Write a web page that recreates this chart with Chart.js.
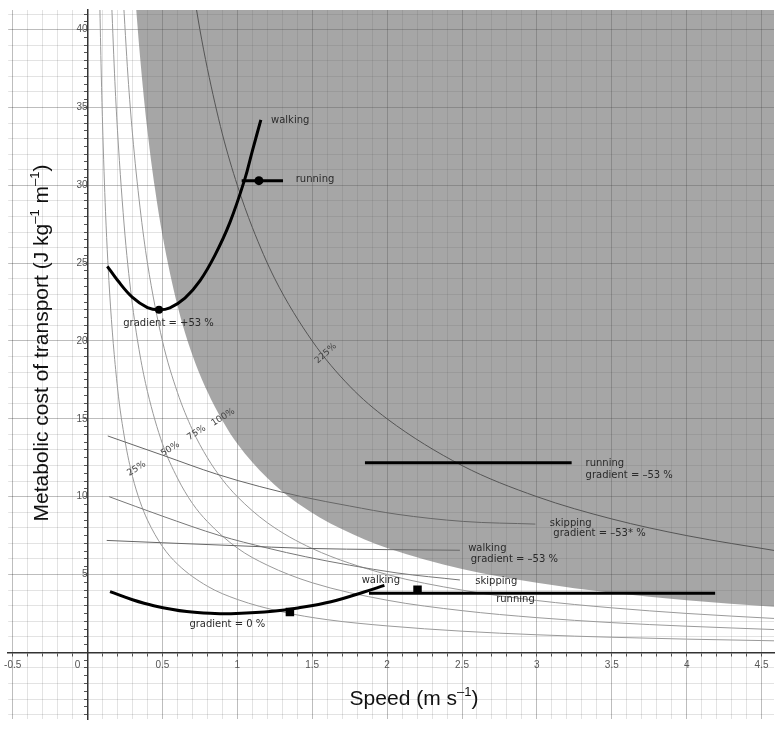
<!DOCTYPE html>
<html><head><meta charset="utf-8">
<script src="https://cdn.jsdelivr.net/npm/chart.js@4.4.1/dist/chart.umd.min.js"></script>
<style>html,body{margin:0;padding:0;background:#fff;}#wrap{width:780px;height:729px;position:relative;}</style>
</head><body><div id="wrap"><canvas id="c" width="780" height="729"></canvas></div>
<script>
// ---- tick labels ----
const xTickValues = [-0.5, 0, 0.5, 1, 1.5, 2, 2.5, 3, 3.5, 4, 4.5];
const yTickValues = [5, 10, 15, 20, 25, 30, 35, 40];

// ---- iso-power curves (speed, cost) ----
const iso25 = [[0.08,42.5],[0.09,37.8],[0.1,34.0],[0.12,28.3],[0.15,22.7],[0.2,17.0],[0.25,13.6],[0.3,11.3],[0.35,9.7],[0.4,8.5],[0.5,6.8],[0.6,5.67],[0.8,4.25],[1.0,3.4],[1.3,2.6],[1.6,2.1],[2.0,1.7],[2.5,1.36],[3.0,1.13],[3.5,0.97],[4.0,0.85],[4.6,0.74]];
const iso50 = [[0.158,42.4],[0.18,37.2],[0.2,33.5],[0.25,26.8],[0.3,22.3],[0.35,19.1],[0.4,16.75],[0.5,13.4],[0.6,11.2],[0.7,9.57],[0.8,8.4],[1.0,6.7],[1.2,5.6],[1.5,4.47],[2.0,3.35],[2.5,2.68],[3.0,2.23],[3.5,1.91],[4.0,1.68],[4.6,1.46]];
const iso75 = [[0.236,42.4],[0.27,37.0],[0.3,33.3],[0.35,28.6],[0.4,25.0],[0.5,20.0],[0.6,16.7],[0.7,14.3],[0.8,12.5],[0.9,11.1],[1.0,10.0],[1.2,8.33],[1.5,6.67],[2.0,5.0],[2.5,4.0],[3.0,3.33],[3.5,2.86],[4.0,2.5],[4.6,2.17]];
const iso100 = [[0.316,42.4],[0.35,38.3],[0.4,33.5],[0.45,29.8],[0.5,26.8],[0.6,22.3],[0.7,19.1],[0.8,16.75],[0.9,14.9],[1.0,13.4],[1.2,11.2],[1.4,9.6],[1.7,7.9],[2.0,6.7],[2.5,5.36],[3.0,4.47],[3.5,3.83],[4.0,3.35],[4.6,2.91]];
const iso225 = [[0.71,42.3],[0.75,40.0],[0.8,37.5],[0.9,33.3],[1.0,30.0],[1.1,27.3],[1.25,24.0],[1.5,20.0],[1.75,17.1],[2.0,15.0],[2.5,12.0],[3.0,10.0],[3.5,8.57],[4.0,7.5],[4.6,6.52]];

// ---- gaits ----
const walkUp = [[0.132,24.8],[0.2,23.9],[0.3,22.8],[0.4,22.15],[0.477,22.0],[0.55,22.13],[0.65,22.75],[0.75,23.86],[0.85,25.5],[0.95,27.6],[1.05,30.4],[1.1,32.2],[1.157,34.2]];
const walkUpMin = [[0.477,22.0]];
const runUp = [[1.029,30.3],[1.305,30.3]];
const runUpMark = [[1.144,30.3]];
const runDown = [[1.852,12.18],[3.232,12.18]];
const skipDown = [[0.135,13.9],[0.508,12.64],[0.861,11.45],[1.15,10.65],[1.43,10.0],[1.75,9.4],[2.066,8.87],[2.508,8.41],[2.99,8.24]];
const walkDown = [[0.128,7.19],[0.5,7.04],[1.0,6.85],[1.457,6.68],[2.0,6.6],[2.486,6.56]];
const skipFlat = [[0.144,10.0],[0.5,8.75],[0.883,7.5],[1.2,6.7],[1.457,6.14],[1.75,5.6],[2.066,5.1],[2.486,4.65]];
const walkFlat = [[0.15,3.9],[0.3,3.38],[0.442,3.0],[0.662,2.62],[0.85,2.5],[0.993,2.5],[1.236,2.64],[1.404,2.85],[1.625,3.25],[1.846,3.88],[1.982,4.3]];
const walkFlatMark = [[1.351,2.6]];
const runFlat = [[1.879,3.79],[4.19,3.79]];
const runFlatMark = [[2.203,4.03]];

// ---- text annotations (anchored in data units) ----
const notes = [
  {t:'walking', x:1.225, y:34.2},
  {t:'running', x:1.39, y:30.4},
  {t:'gradient = +53 %', x:0.238, y:21.1},
  {t:'running', x:3.325, y:12.12},
  {t:'gradient = –53 %', x:3.325, y:11.34},
  {t:'skipping', x:3.086, y:8.28},
  {t:'gradient = –53* %', x:3.11, y:7.61},
  {t:'walking', x:2.541, y:6.67},
  {t:'gradient = –53 %', x:2.558, y:5.97},
  {t:'walking', x:1.83, y:4.64},
  {t:'skipping', x:2.589, y:4.53},
  {t:'running', x:2.728, y:3.42},
  {t:'gradient = 0 %', x:0.68, y:1.8}
];
const pctNotes = [
  {t:'25%', x:0.327, y:11.8, r:-32},
  {t:'50%', x:0.552, y:13.06, r:-32},
  {t:'75%', x:0.728, y:14.1, r:-32},
  {t:'100%', x:0.905, y:15.1, r:-32},
  {t:'225%', x:1.59, y:19.2, r:-42}
];

const pts = a => a.map(p => ({x:p[0], y:p[1]}));
const near = (v, s) => Math.abs(v / s - Math.round(v / s)) < 1e-6;

function curve(data, color, width, order, extra) {
  return Object.assign({data: pts(data), borderColor: color, borderWidth: width, pointRadius: 0,
    fill: false, cubicInterpolationMode: 'monotone', order: order, borderCapStyle: 'butt'}, extra || {});
}
function thick(data, order) {
  return {data: pts(data), borderColor: '#000', borderWidth: 3, pointRadius: 0, fill: false,
    tension: 0.4, order: order, borderCapStyle: 'butt', borderJoinStyle: 'round'};
}
function marks(data, style, r, order) {
  return {data: pts(data), showLine: false, pointStyle: style, pointRadius: r, pointBackgroundColor: '#000',
    pointBorderColor: '#000', pointBorderWidth: 0, order: order};
}

const textPlugin = {
  id: 'texts',
  afterDatasetsDraw(chart) {
    const {ctx} = chart; const xs = chart.scales.x, ys = chart.scales.y;
    ctx.save();
    ctx.fillStyle = '#2a2a2a';
    ctx.font = '10px "DejaVu Sans"';
    ctx.textAlign = 'left'; ctx.textBaseline = 'middle';
    notes.forEach(n => ctx.fillText(n.t, xs.getPixelForValue(n.x), ys.getPixelForValue(n.y)));
    ctx.font = '9px "DejaVu Sans"';
    ctx.fillStyle = '#444';
    ctx.textAlign = 'center';
    pctNotes.forEach(n => {
      ctx.save();
      ctx.translate(xs.getPixelForValue(n.x), ys.getPixelForValue(n.y));
      ctx.rotate(n.r * Math.PI / 180);
      ctx.fillText(n.t, 0, 0);
      ctx.restore();
    });
    ctx.restore();
  },
  afterDraw(chart) {
    const {ctx} = chart;
    function rich(segs, cx, cy, rot) {
      ctx.save();
      ctx.translate(cx, cy); ctx.rotate(rot);
      ctx.textBaseline = 'alphabetic'; ctx.textAlign = 'left'; ctx.fillStyle = '#111';
      const big = '21px "Liberation Sans"', small = '13px "Liberation Sans"';
      let total = 0;
      segs.forEach(s => { ctx.font = s[1] ? small : big; total += ctx.measureText(s[0]).width; });
      let x = -total / 2;
      segs.forEach(s => { ctx.font = s[1] ? small : big; ctx.fillText(s[0], x, s[1] ? -1 : 7.5); x += ctx.measureText(s[0]).width; });
      ctx.restore();
    }
    rich([['Speed (m s', false], ['–1', true], [')', false]], 414, 697, 0);
    rich([['Metabolic cost of transport (J kg', false], ['–1', true], [' m', false], ['–1', true], [')', false]], 40, 343, -Math.PI / 2);
  }
};

const MAJOR = 'rgba(0,0,0,0.26)', MINOR = 'rgba(0,0,0,0.11)';

new Chart(document.getElementById('c'), {
  type: 'line',
  data: {datasets: [
    curve(iso100, 'rgba(0,0,0,0)', 0, 100, {fill: 'end', backgroundColor: 'rgba(92,92,92,0.55)'}),
    curve(iso25, '#9a9a9a', 1, 50),
    curve(iso50, '#9a9a9a', 1, 50),
    curve(iso75, '#9a9a9a', 1, 50),
    curve(iso225, '#555', 1, 40),
    curve(skipDown, '#666', 1, 40),
    curve(walkDown, '#666', 1, 40),
    curve(skipFlat, '#777', 1, 40),
    thick(walkUp, 5),
    thick(runUp, 5),
    thick(runDown, 5),
    thick(walkFlat, 5),
    thick(runFlat, 5),
    marks(walkUpMin, 'circle', 4, 1),
    marks(runUpMark, 'circle', 4.5, 1),
    marks(walkFlatMark, 'rect', 6, 1),
    marks(runFlatMark, 'rect', 6, 1)
  ]},
  options: {
    responsive: false, animation: false, devicePixelRatio: 1,
    layout: {padding: {left: 8, top: 5, right: 0, bottom: 0}},
    plugins: {legend: {display: false}, tooltip: {enabled: false}},
    scales: {
      x: {type: 'linear', min: -0.53, max: 4.583, position: {y: 0},
        ticks: {stepSize: 0.1, autoSkip: false, maxRotation: 0, includeBounds: false, padding: 4,
          color: '#555', font: {family: 'Liberation Sans', size: 10},
          callback: v => { const i = xTickValues.findIndex(t => Math.abs(t - v) < 1e-6); if (i < 0) return ''; return xTickValues[i] === 0 ? '0\u2003\u2003' : String(xTickValues[i]); }},
        grid: {color: c => (c.tick && near(c.tick.value, 0.5)) ? MAJOR : MINOR, lineWidth: 1, tickLength: 3, tickColor: '#555'},
        border: {display: true, color: '#333', width: 1.5}
      },
      y: {type: 'linear', min: -4.28, max: 41.26, position: {x: 0},
        ticks: {stepSize: 0.5, autoSkip: false, includeBounds: false, padding: 4,
          color: '#555', font: {family: 'Liberation Sans', size: 10},
          callback: v => { const i = yTickValues.findIndex(t => Math.abs(t - v) < 1e-6); return i < 0 ? '' : String(yTickValues[i]); }},
        grid: {color: c => { if (!c.tick) return MINOR; const v = c.tick.value; if (!near(v, 1)) return 'rgba(0,0,0,0)'; return near(v, 5) ? MAJOR : MINOR; },
          lineWidth: 1, tickLength: 3, tickColor: '#555'},
        border: {display: true, color: '#333', width: 1.5}
      }
    }
  },
  plugins: [textPlugin]
});
</script></body></html>
